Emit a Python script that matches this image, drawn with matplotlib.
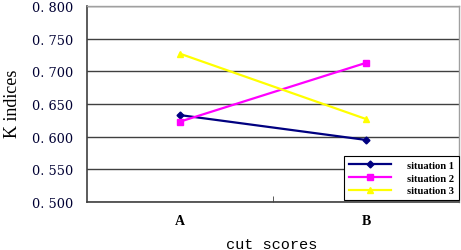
import matplotlib
matplotlib.use("Agg")
import matplotlib.pyplot as plt
from matplotlib.ticker import FixedLocator

categories = ["A", "B"]
situation1 = [0.633, 0.595]
situation2 = [0.623, 0.713]
situation3 = [0.727, 0.627]
yticks = [0.500, 0.550, 0.600, 0.650, 0.700, 0.750, 0.800]
ytick_labels = ["0. 500", "0. 550", "0. 600", "0. 650", "0. 700", "0. 750", "0. 800"]

fig = plt.figure(figsize=(4.61, 2.51), dpi=100)
ax = fig.add_axes([87/461, 48/251, 372/461, 196/251])

x = list(range(len(categories)))
ax.plot(x, situation1, color="#000080", marker="D", markersize=3.5, lw=1.6, label="situation 1")
ax.plot(x, situation2, color="#FF00FF", marker="s", markersize=5, lw=1.6, label="situation 2")
ax.plot(x, situation3, color="#FFFF00", marker="^", markersize=5, lw=1.6, label="situation 3")

ax.set_xlim(-0.5, 1.5)
ax.set_ylim(0.5, 0.8)
ax.set_yticks(yticks)
ax.set_yticklabels(ytick_labels, family="DejaVu Serif", fontsize=9.3, color="#000033")
ax.tick_params(axis="y", length=0, pad=10)
ax.yaxis.grid(True, color="#404040", lw=1.0)
ax.set_axisbelow(True)

ax.set_xticks(x)
ax.set_xticklabels(categories, family="Liberation Serif", fontweight="bold", fontsize=10)
ax.tick_params(axis="x", which="major", length=0, pad=9)
ax.xaxis.set_minor_locator(FixedLocator([0.5]))
ax.tick_params(axis="x", which="minor", direction="in", length=4, color="#404040")

for s in ["left", "bottom"]:
    ax.spines[s].set_color("#404040")
    ax.spines[s].set_linewidth(1.2)
for s in ["top", "right"]:
    ax.spines[s].set_color("#a0a0a0")
    ax.spines[s].set_linewidth(1.0)

ax.set_ylabel("K indices", family="Liberation Serif", fontsize=13, va="center")
ax.yaxis.set_label_coords(-0.199, 0.505)
ax.set_xlabel("cut scores", family="Liberation Mono", fontsize=11, va="center")
ax.xaxis.set_label_coords(0.497, -0.214)

leg = ax.legend(loc="lower right", bbox_to_anchor=(1.0, 0.01), prop={"family": "Liberation Serif", "weight": "bold", "size": 7.6},
                frameon=True, fancybox=False, edgecolor="black", framealpha=1, borderaxespad=0,
                handlelength=4, labelspacing=0.3, handletextpad=1.5, borderpad=0.45)
leg.get_frame().set_linewidth(0.8)

fig.savefig("out.png", dpi=100)
